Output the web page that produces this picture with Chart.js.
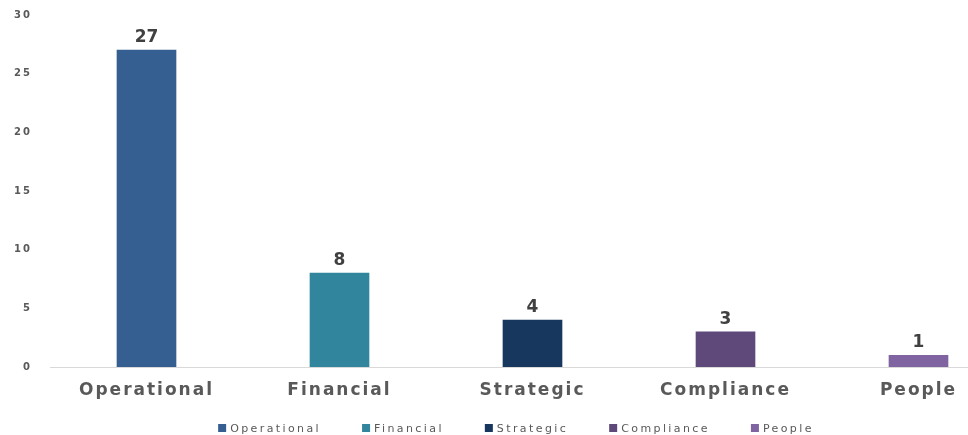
<!DOCTYPE html>
<html>
<head>
<meta charset="utf-8">
<script src="https://cdn.jsdelivr.net/npm/chart.js@4.4.1/dist/chart.umd.min.js"></script>
<style>
  html, body { margin: 0; padding: 0; background: #fff; overflow: hidden; }
  #wrap { width: 1032px; height: 435px; }
</style>
</head>
<body>
<div id="wrap"><canvas id="riskChart" width="1032" height="435"></canvas></div>
<script>
// risk categories and counts
var categories = ['Operational', 'Financial', 'Strategic', 'Compliance', 'People'];
var counts = [27, 8, 4, 3, 1];
var barColors = ['#365F91', '#31859C', '#17375E', '#5F497A', '#8064A2'];
var yTicks = [0, 5, 10, 15, 20, 25, 30];

// wider tracking for the axis text
var axisTracking = {
  id: 'axisTracking',
  beforeDraw: function(chart) { chart.ctx.letterSpacing = '2px'; },
  afterDraw: function(chart) { chart.ctx.letterSpacing = '0px'; }
};

// value labels above each bar
var barValueLabels = {
  id: 'barValueLabels',
  afterDatasetsDraw: function(chart) {
    var ctx = chart.ctx;
    var meta = chart.getDatasetMeta(0);
    ctx.save();
    ctx.letterSpacing = '0px';
    ctx.font = 'bold 17px "DejaVu Sans", sans-serif';
    ctx.fillStyle = '#404040';
    ctx.textAlign = 'center';
    ctx.textBaseline = 'alphabetic';
    meta.data.forEach(function(bar, i) {
      ctx.fillText(String(counts[i]), bar.x, bar.y - 8);
    });
    ctx.restore();
  }
};

// legend row under the axis labels, letter-spaced
var bottomLegend = {
  id: 'bottomLegend',
  afterDraw: function(chart) {
    var ctx = chart.ctx;
    var y = 428, box = 8, gap = 4, itemGap = 41;
    ctx.save();
    ctx.font = '11px "DejaVu Sans", sans-serif';
    ctx.letterSpacing = '2.4px';
    var widths = categories.map(function(c) { return ctx.measureText(c).width; });
    var total = widths.reduce(function(a, w) { return a + box + gap + w; }, 0) + itemGap * (categories.length - 1);
    var x = 516 - total / 2;
    ctx.textBaseline = 'middle';
    ctx.textAlign = 'left';
    categories.forEach(function(c, i) {
      ctx.fillStyle = barColors[i];
      ctx.fillRect(x, y - box / 2, box, box);
      ctx.fillStyle = '#595959';
      ctx.fillText(c, x + box + gap, y + 1);
      x += box + gap + widths[i] + itemGap;
    });
    ctx.restore();
  }
};

var ctx = document.getElementById('riskChart').getContext('2d');
new Chart(ctx, {
  type: 'bar',
  data: {
    labels: categories,
    datasets: [{
      data: counts,
      backgroundColor: barColors,
      barThickness: 59
    }]
  },
  options: {
    responsive: false,
    animation: false,
    layout: { padding: { top: 15, right: 17, left: 0, bottom: 35 } },
    plugins: {
      tooltip: { enabled: false },
      legend: { display: false }
    },
    scales: {
      x: {
        afterFit: function(scale) { scale.height = 33; },
        grid: { display: false, drawTicks: false },
        border: { display: true, color: '#D9D9D9', width: 1 },
        ticks: {
          color: '#595959',
          padding: 13,
          font: { family: '"DejaVu Sans", sans-serif', size: 17, weight: 'bold' }
        }
      },
      y: {
        min: 0,
        max: 30,
        afterFit: function(scale) {
          scale.width = 50;
          scale.paddingTop = 0;
          scale.paddingBottom = 0;
        },
        afterBuildTicks: function(scale) {
          scale.ticks = yTicks.map(function(v) { return { value: v }; });
        },
        grid: { display: false, drawTicks: false },
        border: { display: false },
        ticks: {
          color: '#595959',
          padding: 18,
          font: { family: '"DejaVu Sans", sans-serif', size: 10, weight: 'bold' }
        }
      }
    }
  },
  plugins: [axisTracking, barValueLabels, bottomLegend]
});
</script>
</body>
</html>
